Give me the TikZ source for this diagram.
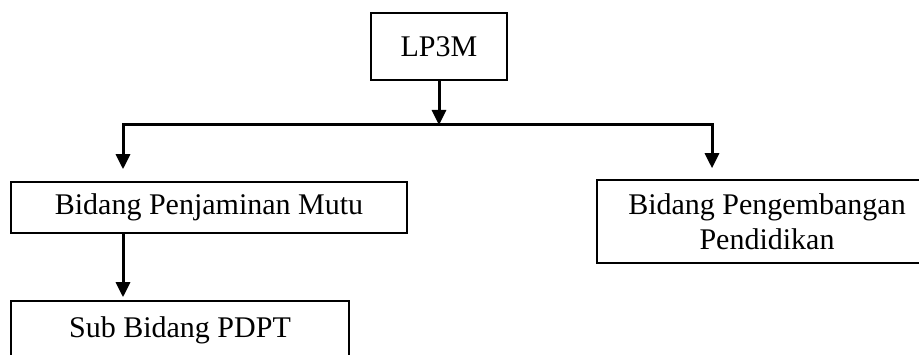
\documentclass[tikz,border=0pt]{standalone}
\usepackage{fontspec}
\setmainfont{Liberation Serif}
\usetikzlibrary{positioning, arrows.meta}

\begin{document}
\begin{tikzpicture}[
    x=1pt, y=-1pt,
    font=\fontsize{30}{35}\selectfont,
    unit/.style={rectangle, draw, line width=1.6pt, inner sep=0pt, align=center},
    link/.style={line width=3pt},
    conn/.style={link, -{Triangle[width=14pt, length=15pt]}}
  ]
  \useasboundingbox (0,0) rectangle (919,355);

  % --- UNITS ---
  \node[unit, minimum width=136pt, minimum height=67pt] (lp3m) at (439,46.5) {LP3M};
  \node[unit, minimum width=396pt, minimum height=51pt] (mutu) at (209,207.5) {Bidang Penjaminan Mutu};
  \node[unit, minimum width=340pt, minimum height=83pt] (didik) at (767,221.5) {Bidang Pengembangan\\Pendidikan};
  \node[unit, minimum width=338pt, minimum height=58pt] (pdpt) at (180,330) {Sub Bidang PDPT};

  % --- BRANCH POINTS ---
  \coordinate (split) at (439,125);
  \coordinate (left) at (123,125);
  \coordinate (right) at (712,125);

  % --- CONNECTORS ---
  \draw[conn] (lp3m) -- (split);
  \draw[conn, shorten >=12pt] (split) -- (left) -- (mutu.north -| left);
  \draw[conn, shorten >=11pt] (split) -- (right) -- (didik.north -| right);
  \draw[conn, shorten >=3pt] (mutu.south -| left) -- (pdpt.north -| left);

\end{tikzpicture}
\end{document}
